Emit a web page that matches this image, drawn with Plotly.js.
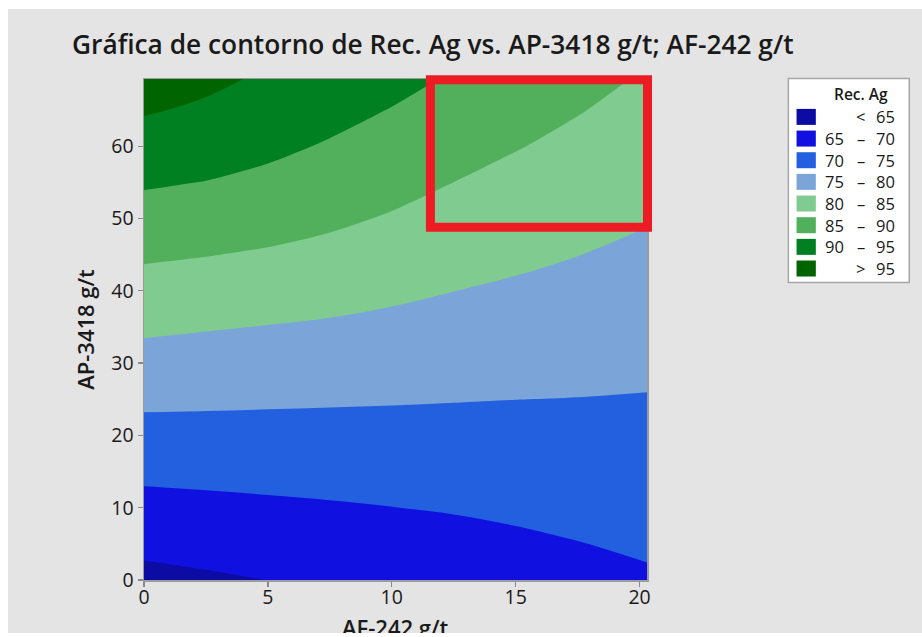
<!DOCTYPE html>
<html><head><meta charset="utf-8">
<script src="https://cdn.plot.ly/plotly-3.0.1.min.js"></script>
<style>
html,body{margin:0;padding:0;background:#ffffff;}
#frame{position:absolute;left:8px;top:9px;width:914px;height:624px;overflow:hidden;background:#e4e4e4;}
#chart{position:absolute;left:0;top:0;width:914px;height:660px;}
</style>
</head><body><div id="frame"><div id="chart"></div></div>
<script>
// AF-242 g/t (x) and AP-3418 g/t (y) grid, Rec. Ag
const afX = [0, 2.5, 5, 7.5, 10, 12.5, 15, 17.5, 20.3];
const apY = [0, 5, 10, 15, 20, 25, 30, 35, 40, 45, 50, 55, 60, 65, 69.3];
const recAg = [
  [63.68, 64.36, 65.03, 65.71, 66.38, 67.06, 67.83, 68.61, 69.46],
  [66.12, 66.63, 67.14, 67.65, 68.17, 68.68, 69.29, 69.90, 70.57],
  [68.56, 68.91, 69.26, 69.60, 69.95, 70.30, 70.73, 71.14, 71.60],
  [71.00, 71.18, 71.37, 71.55, 71.74, 71.92, 72.15, 72.39, 72.64],
  [73.44, 73.46, 73.48, 73.50, 73.52, 73.54, 73.59, 73.63, 73.68],
  [75.88, 75.74, 75.59, 75.45, 75.31, 75.16, 75.02, 74.93, 74.80],
  [78.32, 78.01, 77.71, 77.40, 77.09, 76.78, 76.48, 76.17, 75.82],
  [80.76, 80.29, 79.87, 79.45, 78.93, 78.40, 77.93, 77.46, 76.93],
  [83.20, 82.72, 82.23, 81.60, 80.81, 80.03, 79.39, 78.76, 78.04],
  [85.64, 85.14, 84.54, 83.74, 82.75, 81.75, 80.85, 80.05, 79.15],
  [88.08, 87.52, 86.76, 85.79, 84.63, 83.37, 82.31, 81.34, 80.27],
  [90.52, 89.89, 88.92, 87.74, 86.42, 84.99, 83.76, 82.64, 81.37],
  [92.96, 92.17, 90.98, 89.59, 88.10, 86.56, 85.22, 83.93, 82.49],
  [95.40, 94.35, 92.99, 91.44, 89.84, 88.18, 86.68, 85.22, 83.60],
  [97.50, 95.90, 94.41, 93.01, 91.32, 89.58, 87.93, 86.34, 84.55]
];
const levelStart = 65, levelEnd = 95, levelSize = 5;
const bandColors = ['#0c0ca4', '#1010e0', '#2360e0', '#7ba5d8', '#80cc90', '#52b05c', '#008020', '#006400'];
const legendLow  = ['', '65', '70', '75', '80', '85', '90', ''];
const legendSep  = ['<', '–', '–', '–', '–', '–', '–', '>'];
const legendHigh = ['65', '70', '75', '80', '85', '90', '95', '95'];
const xTicks = [0, 5, 10, 15, 20];
const yTicks = [0, 10, 20, 30, 40, 50, 60];
const xTitle = 'AF-242 g/t';
const yTitle = 'AP-3418 g/t';

const FONT = '"Open Sans", "Noto Sans", sans-serif';
const TXT = '#1a1a1a';

// plot area in page pixels (for placing overlay items)
const PL = 143.5, PR = 647, PT = 79, PB = 580;
const pxX = p => (p - PL) / (PR - PL);
const pxY = p => (PB - p) / (PB - PT);

const n = bandColors.length;
const colorscale = bandColors.map((c, i) => [i / (n - 1), c]);

const trace = {
  type: 'contour', x: afX, y: apY, z: recAg,
  autocontour: false,
  contours: {start: levelStart, end: levelEnd, size: levelSize, coloring: 'fill', showlines: false},
  colorscale: colorscale, showscale: false,
  line: {width: 0, smoothing: 1},
  hoverinfo: 'skip'
};

const shapes = [];
const annotations = [];

// red highlight rectangle
shapes.push({type: 'rect', xref: 'paper', yref: 'paper',
  x0: pxX(430.2), x1: pxX(647.5), y0: pxY(227.2), y1: pxY(79.7),
  line: {color: '#ed1c24', width: 9}, fillcolor: 'rgba(0,0,0,0)', layer: 'above'});

// x-axis title (sits at the bottom edge, partly cut as in the original)
annotations.push({xref: 'paper', yref: 'paper', x: 0.5, y: pxY(627), text: xTitle,
  showarrow: false, xanchor: 'center', yanchor: 'middle', font: {family: FONT, size: 22, color: TXT, weight: 600}});

// legend box
shapes.push({type: 'rect', xref: 'paper', yref: 'paper',
  x0: pxX(788.5), x1: pxX(909.5), y0: pxY(282.5), y1: pxY(78.5),
  line: {color: '#a6a6a6', width: 1.5}, fillcolor: '#ffffff', layer: 'above'});
annotations.push({xref: 'paper', yref: 'paper', x: pxX(861), y: pxY(94), text: 'Rec. Ag',
  showarrow: false, xanchor: 'center', yanchor: 'middle', font: {family: FONT, size: 15.5, color: TXT, weight: 600}});

const rowTop = 116.9, rowStep = 21.66;
for (let i = 0; i < n; i++) {
  const cy = rowTop + i * rowStep;
  shapes.push({type: 'rect', xref: 'paper', yref: 'paper',
    x0: pxX(796.7), x1: pxX(816), y0: pxY(cy + 8), y1: pxY(cy - 8),
    line: {width: 0}, fillcolor: bandColors[i], layer: 'above'});
  const f = {family: FONT, size: 16.5, color: TXT};
  if (legendLow[i]) annotations.push({xref: 'paper', yref: 'paper', x: pxX(846), y: pxY(cy), text: legendLow[i],
    showarrow: false, xanchor: 'right', yanchor: 'middle', font: f});
  annotations.push({xref: 'paper', yref: 'paper', x: pxX(861), y: pxY(cy), text: legendSep[i],
    showarrow: false, xanchor: 'center', yanchor: 'middle', font: f});
  annotations.push({xref: 'paper', yref: 'paper', x: pxX(897.5), y: pxY(cy), text: legendHigh[i],
    showarrow: false, xanchor: 'right', yanchor: 'middle', font: f});
}

const axisCommon = {
  showgrid: false, zeroline: false, showline: true, mirror: true,
  linecolor: '#9a9a9a', linewidth: 1.5,
  ticks: 'outside', ticklen: 5, tickwidth: 1.3, tickcolor: '#8a8a8a',
  tickfont: {family: FONT, size: 19.5, color: TXT}
};

const layout = {
  width: 914, height: 660,
  paper_bgcolor: '#e4e4e4', plot_bgcolor: '#e4e4e4',
  margin: {l: 136, r: 275, t: 70, b: 89, pad: 0},
  showlegend: false,
  title: {text: 'Gráfica de contorno de Rec. Ag vs. AP-3418 g/t; AF-242 g/t',
    xref: 'container', yref: 'container', x: 64 / 914, xanchor: 'left', y: 1 - 36 / 660, yanchor: 'middle',
    font: {family: FONT, size: 26.3, color: TXT, weight: 600}},
  xaxis: Object.assign({}, axisCommon, {range: [0, 20.3], tickvals: xTicks, automargin: false, ticklabelstandoff: -6}),
  yaxis: Object.assign({}, axisCommon, {range: [0, 69.3], tickvals: yTicks, automargin: false,
    title: {text: yTitle, standoff: 10, font: {family: FONT, size: 22, color: TXT, weight: 600}}}),
  shapes: shapes, annotations: annotations
};

Plotly.newPlot('chart', [trace], layout, {displayModeBar: false, staticPlot: true});
</script></body></html>
